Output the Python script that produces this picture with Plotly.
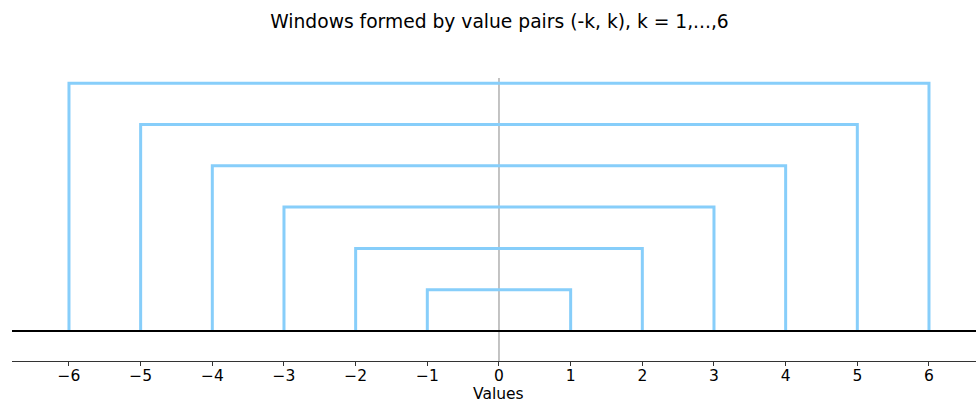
import plotly.graph_objects as go

# Data
ks = [1, 2, 3, 4, 5, 6]
left_values = [-1, -2, -3, -4, -5, -6]
right_values = [1, 2, 3, 4, 5, 6]
heights = [1, 2, 3, 4, 5, 6]
tick_vals = [-6, -5, -4, -3, -2, -1, 0, 1, 2, 3, 4, 5, 6]

fig = go.Figure()

for lo, hi, h in zip(left_values, right_values, heights):
    fig.add_trace(go.Scatter(
        x=[lo, lo, hi, hi], y=[0, h, h, 0], mode="lines",
        line=dict(color="#87CEFA", width=3), hoverinfo="skip", showlegend=False,
    ))

# vertical reference line at 0 (behind)
fig.add_shape(type="line", xref="x", yref="paper", x0=0, x1=0, y0=0, y1=1,
              line=dict(color="#b0b0b0", width=1.5), layer="below")
# baseline
fig.add_shape(type="line", xref="paper", yref="y", x0=0, x1=1, y0=0, y1=0,
              line=dict(color="black", width=2), layer="above")

# x-axis title as annotation
fig.add_annotation(text="Values", xref="x", x=0, yref="paper", y=-(393.5 - 361) / 283,
                   yanchor="middle", xanchor="center", showarrow=False, borderpad=0,
                   font=dict(size=15.5, family="DejaVu Sans", color="black"))

fig.update_layout(
    width=976, height=403,
    margin=dict(l=12, r=0, t=78, b=42),
    paper_bgcolor="white", plot_bgcolor="white",
    font=dict(family="DejaVu Sans", color="black"),
    title=dict(text="Windows formed by value pairs (-k, k), k = 1,...,6",
               x=499.5 / 976, xanchor="center", xref="container",
               y=1 - 21 / 403, yref="container", yanchor="middle",
               font=dict(size=18.7, family="DejaVu Sans", color="black")),
    xaxis=dict(range=[-6.795, 6.656], tickvals=tick_vals,
               ticktext=[("\u2212" + str(-v)) if v < 0 else str(v) for v in tick_vals],
               showgrid=False, zeroline=False, showline=True, linecolor="#333",
               linewidth=1, ticks="outside", ticklen=4, tickcolor="#333",
               ticklabelstandoff=-4,
               tickfont=dict(size=15.5, family="DejaVu Sans", color="black"),
               automargin=False, fixedrange=True),
    yaxis=dict(range=[-0.726, 6.125], visible=False, showgrid=False,
               zeroline=False, fixedrange=True),
)

fig.write_html("out.html")
